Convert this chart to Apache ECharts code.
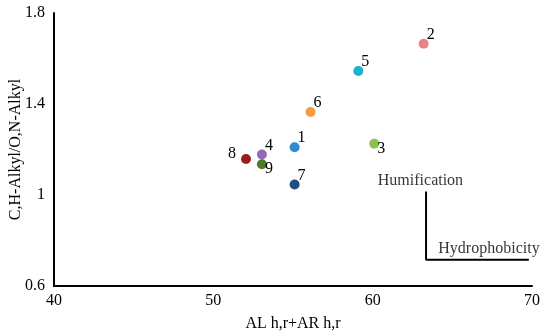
<!DOCTYPE html>
<html>
<head>
<meta charset="utf-8">
<script src="https://cdn.jsdelivr.net/npm/echarts@6/dist/echarts.min.js"></script>
<style>html,body{margin:0;padding:0;background:#fff}#c{width:550px;height:336px}</style>
</head>
<body>
<div id="c"></div>
<script>
// Data
var pointNames = ['1','2','3','4','5','6','7','8','9'];
var xValues = [55.1, 63.2, 60.1, 53.05, 59.1, 56.1, 55.1, 52.05, 53.05];
var yValues = [1.21, 1.665, 1.225, 1.178, 1.545, 1.365, 1.046, 1.158, 1.135];
var pointColors = ['#2f8ccc','#e88484','#8dc14f','#9468b4','#19b2cf','#f69c3f','#1f4e80','#9a1d1d','#4c7a2a'];
var labelPos = ['right','right','bottom','right','right','right','right','left','bottom'];
var xTicks = [40, 50, 60, 70];
var yTicks = [0.6, 1, 1.4, 1.8];
// annotation (data coordinates)
var annotLine = [[63.35, 1.015], [63.35, 0.715], [69.8, 0.715]];
var annotTexts = ['Humification', 'Hydrophobicity'];
var annotPos = [[63.0, 1.015], [67.3, 0.715]];

var font = '"Liberation Serif", "Times New Roman", serif';
var fs = 16;
var chart = echarts.init(document.getElementById('c'));
var scatterData = pointNames.map(function (n, i) {
  var lp = labelPos[i];
  var label = {show: true, formatter: n, color: '#000', fontFamily: font, fontSize: fs};
  if (lp === 'right') { label.position = [8, -12]; }
  if (lp === 'bottom') { label.position = [8, 2]; }
  if (lp === 'left') { label.position = [-13, -8]; }
  return {value: [xValues[i], yValues[i]], itemStyle: {color: pointColors[i], opacity: 1}, label: label};
});
chart.setOption({
  animation: false,
  grid: {left: 54, right: 18, top: 13, bottom: 50, containLabel: false, outerBoundsMode: 'none'},
  xAxis: {
    type: 'value', min: xTicks[0], max: xTicks[xTicks.length - 1], interval: 10,
    axisLine: {lineStyle: {color: '#000', width: 2}},
    axisTick: {show: false}, splitLine: {show: false},
    axisLabel: {color: '#000', fontFamily: font, fontSize: fs, margin: 7},
    name: 'AL h,r+AR h,r', nameLocation: 'middle', nameGap: 30, nameMoveOverlap: false,
    nameTextStyle: {color: '#000', fontFamily: font, fontSize: fs}
  },
  yAxis: {
    type: 'value', min: 0.6, max: 1.8, interval: 0.4,
    axisLine: {show: true, lineStyle: {color: '#000', width: 2}},
    axisTick: {show: false}, splitLine: {show: false},
    axisLabel: {color: '#000', fontFamily: font, fontSize: fs, margin: 9,
      formatter: function (v) { return yTicks.indexOf(+v.toFixed(1)) >= 0 ? String(+v.toFixed(1)) : ''; }},
    name: 'C,H-Alkyl/O,N-Alkyl', nameLocation: 'middle', nameGap: 30, nameMoveOverlap: false,
    nameTextStyle: {color: '#000', fontFamily: font, fontSize: fs}
  },
  series: [
    {type: 'scatter', symbolSize: 10, data: scatterData},
    {type: 'line', data: annotLine, symbol: 'none', lineStyle: {color: '#000', width: 2}, silent: true},
    {type: 'scatter', symbolSize: 0, silent: true,
      data: annotPos.map(function (p, i) { return {value: p, label: {show: true, formatter: annotTexts[i], position: 'top', distance: 3, color: '#000', fontFamily: font, fontSize: fs}}; })}
  ]
});
</script>
</body>
</html>
